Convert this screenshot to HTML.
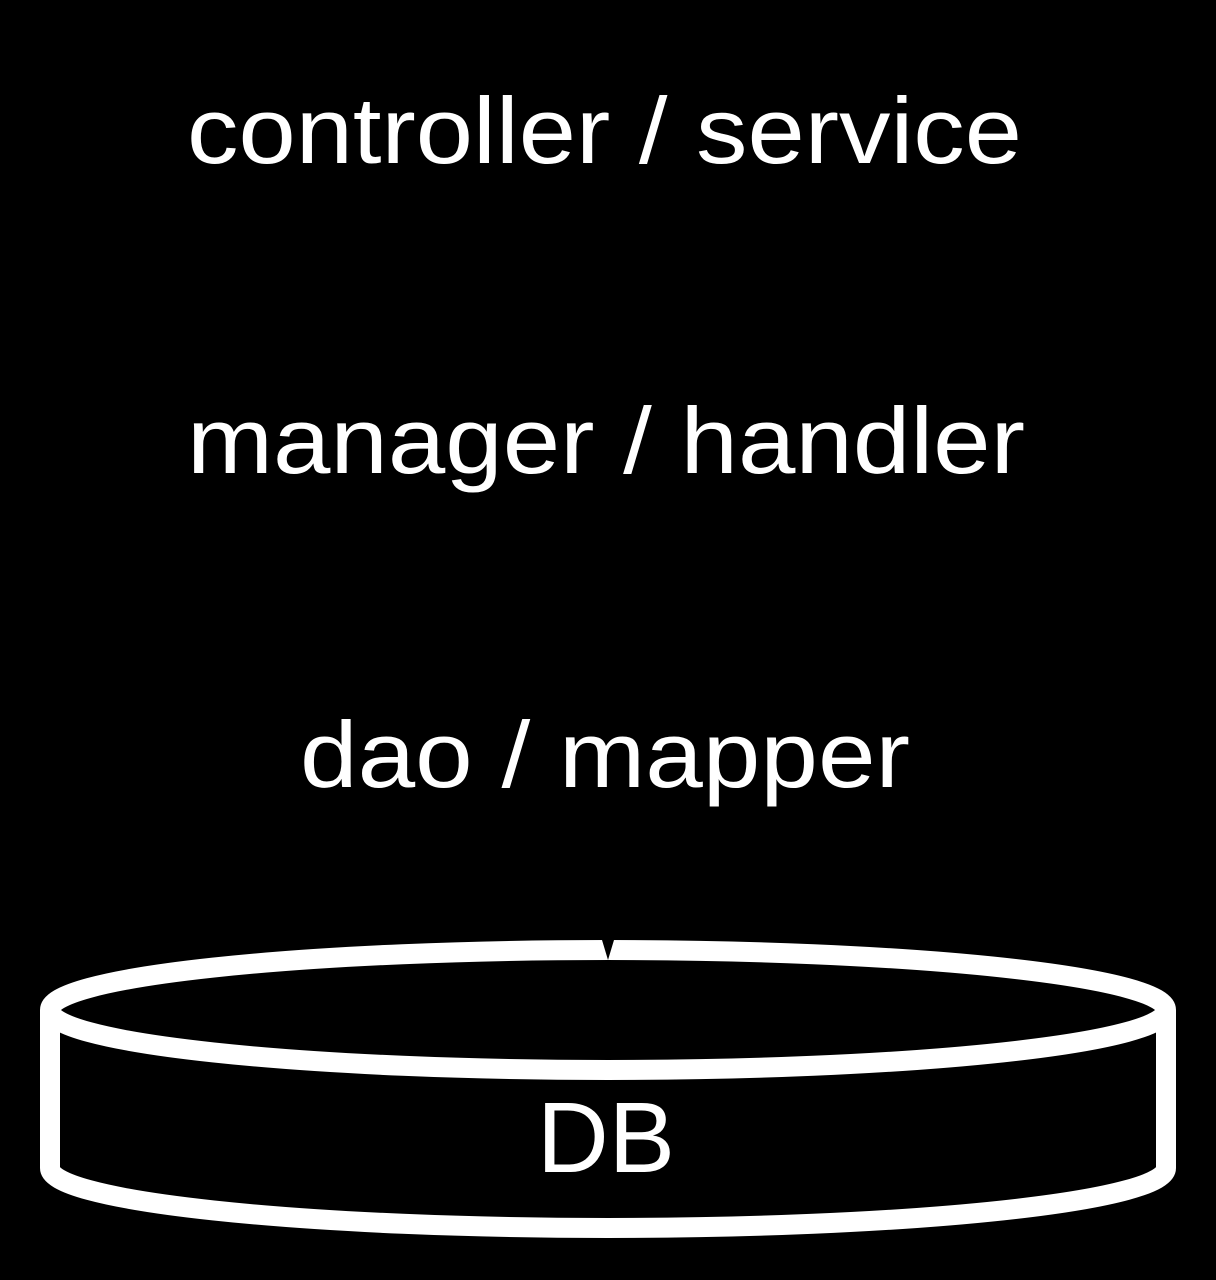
<!DOCTYPE html>
<html><head><style>
html,body{margin:0;padding:0;background:#000;width:1216px;height:1280px;overflow:hidden}
svg{display:block}
text{font-family:"Liberation Sans",Arial,sans-serif;fill:#fff}
</style></head><body>
<svg width="1216" height="1280" viewBox="0 0 1216 1280">
<rect width="1216" height="1280" fill="#000"/>
<text x="187" y="163" font-size="94" textLength="835" lengthAdjust="spacingAndGlyphs">controller / service</text>
<text x="187" y="473" font-size="94" textLength="838" lengthAdjust="spacingAndGlyphs">manager / handler</text>
<text x="300" y="787" font-size="94" textLength="610" lengthAdjust="spacingAndGlyphs">dao / mapper</text>
<g fill="none" stroke="#fff" stroke-width="20">
<path d="M50 1010 L50 1168 A558 60 0 0 0 1166 1168 L1166 1010"/>
<ellipse cx="608" cy="1010" rx="558" ry="60"/>
</g>
<polygon points="602,940 614,940 608,960" fill="#000"/>
<text x="537" y="1172" font-size="100" textLength="138" lengthAdjust="spacingAndGlyphs">DB</text>
</svg>
</body></html>
